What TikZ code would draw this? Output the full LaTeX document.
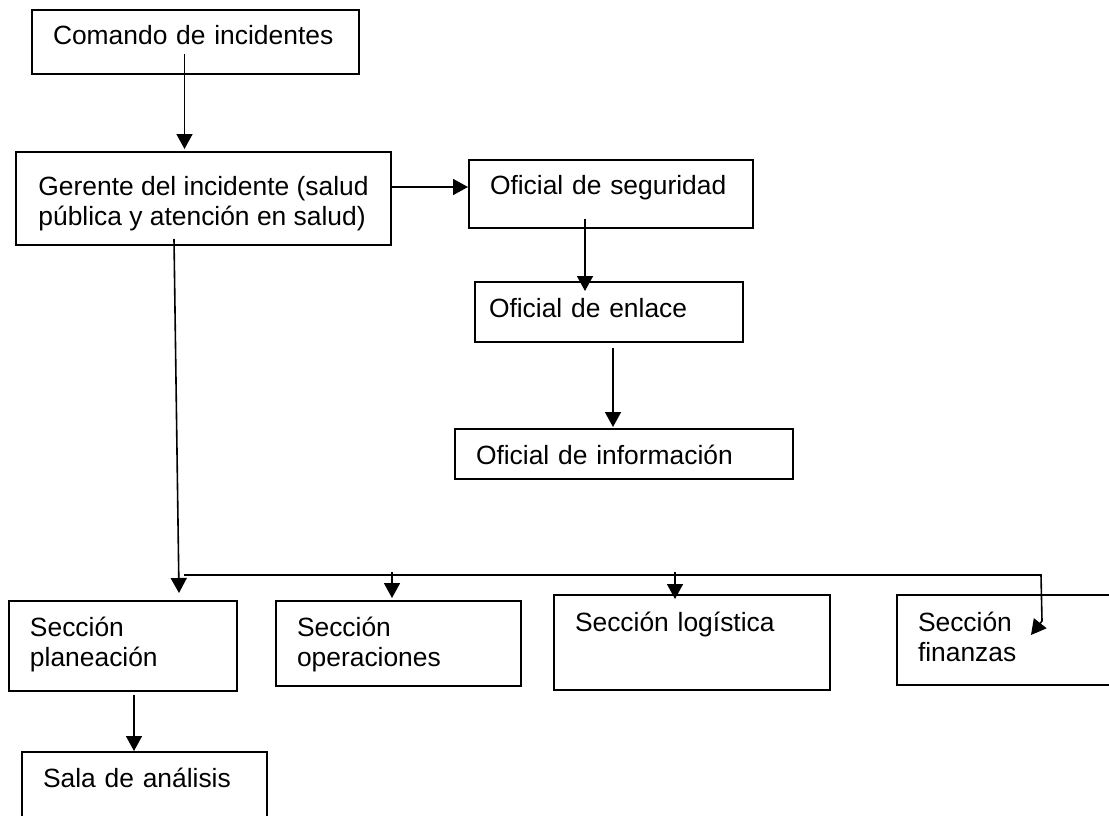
\documentclass[tikz,border=0pt]{standalone}
\usepackage{fontspec}
\setmainfont{Liberation Sans}
\usetikzlibrary{arrows.meta,calc}
\tikzstyle{box} = [draw,line width=2pt,anchor=north west,align=left,inner xsep=21pt,inner ysep=0pt,font=\fontsize{26.4}{30}\selectfont]
\tikzstyle{arrow} = [line width=1.6pt,-{Triangle[length=15pt,width=16pt]}]

\begin{document}
\begin{tikzpicture}[x=1pt,y=-1pt]
        \useasboundingbox (0,0) rectangle (1109,816);
        %cajas
        \node[box,text width=285pt,text height=35pt,text depth=29pt] (com) at (31,9) {Comando de incidentes};
        \node[box,minimum width=375pt,text height=73pt,text depth=20pt] (ger) at (15,151) {Gerente del incidente (salud\\pública y atención en salud)};
        \node[box,text width=242pt,text height=34pt,text depth=34pt] (seg) at (468,159) {Oficial de seguridad};
        \node[box,inner xsep=14pt,text width=240pt,text height=35pt,text depth=25pt] (enl) at (474,281) {Oficial de enlace};
        \node[box,text width=296pt,text height=35pt,text depth=15pt] (inf) at (454,428) {Oficial de información};
        \node[box,text width=186pt,text height=35pt,text depth=55pt] (plan) at (8,600) {Sección\\planeación};
        \node[box,text width=203pt,text height=35pt,text depth=50pt] (ops) at (275,600) {Sección\\operaciones};
        \node[box,text width=234pt,text height=36pt,text depth=59pt] (log) at (553,594) {Sección logística};
        \node[box,text width=198pt,text height=36pt,text depth=54pt] (fin) at (896,594) {Sección\\finanzas};
        \node[box,text width=203pt,text height=35pt,text depth=65pt] (sala) at (21,751) {Sala de análisis};
        %flechas
        \draw[arrow] ($(com.south)+(-11,-21)$) -- ($(com.south |- ger.north)+(-11,-2)$);
        \draw[arrow] ($(ger.east)+(0,-11.5)$) -- ($(ger.east -| seg.west)+(0,-11.5)$);
        \draw[arrow] ($(seg.south)+(-26,-10)$) -- ($(seg.south |- enl.north)+(-26,10)$);
        \draw[arrow] ($(enl.south)+(4,5)$) -- ($(enl.south |- inf.north)+(4,-1)$);
        \draw[arrow] ($(ger.south)+(-29.5,-7)$) -- ($(plan.north)+(56,-7)$);
        \draw[arrow] ($(plan.north)+(61,-25)$) -- ($(fin.north west)+(145,-19)$)
          -- ($(fin.north west)+(146,27)$) -- ($(fin.north west)+(135,41)$);
        \draw[arrow] ($(ops.north)+(-6.5,-28)$) -- ($(ops.north)+(-6.5,-2)$);
        \draw[arrow] ($(log.north)+(-17,-22)$) -- ($(log.north)+(-17,5)$);
        \draw[arrow] ($(plan.south)+(11,3)$) -- ($(plan.south |- sala.north)+(11,0)$);
\end{tikzpicture}
\end{document}
